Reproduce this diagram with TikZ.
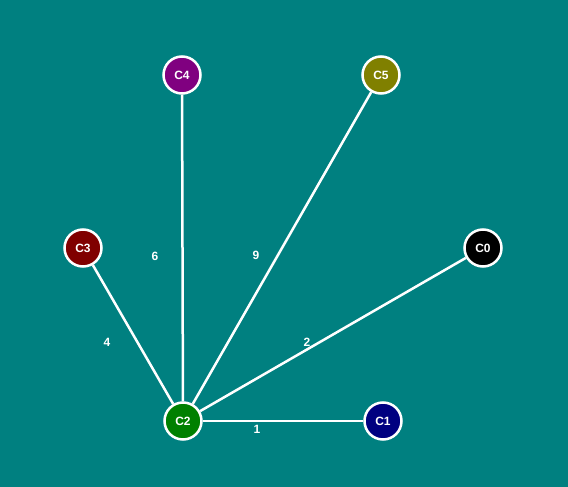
\documentclass[tikz,border=0pt]{standalone}
\usepackage{fontspec}
\setmainfont{Liberation Sans}
\begin{document}
\begin{tikzpicture}[x=1pt,y=-1pt,
  vtx/.style={circle,draw=white,line width=2.5pt,minimum size=37pt,inner sep=0pt,text=white,font=\fontsize{12}{14}\selectfont\bfseries},
  edge/.style={draw=white,line width=2.5pt},
  wt/.style={text=white,font=\fontsize{12}{14}\selectfont\bfseries,inner sep=0pt}]
\fill[fill={rgb,255:red,0;green,128;blue,128}] (0,0) rectangle (568,487);
\useasboundingbox (0,0) rectangle (568,487);
\node[vtx,fill={rgb,255:red,128;green,0;blue,128}] (c4) at (182,75) {C4};
\node[vtx,fill={rgb,255:red,128;green,128;blue,0}] (c5) at (381,75) {C5};
\node[vtx,fill={rgb,255:red,128;green,0;blue,0}] (c3) at (83,248) {C3};
\node[vtx,fill=black] (c0) at (483,248) {C0};
\node[vtx,fill={rgb,255:red,0;green,128;blue,0}] (c2) at (183,421) {C2};
\node[vtx,fill={rgb,255:red,0;green,0;blue,128}] (c1) at (383,421) {C1};
\draw[edge] (c2) -- (c4);
\draw[edge] (c2) -- (c5);
\draw[edge] (c2) -- (c3);
\draw[edge] (c2) -- (c0);
\draw[edge] (c2) -- (c1);
\node[wt] (w6) at (155,256) {6};
\node[wt] (w9) at (256,255) {9};
\node[wt] (w4) at (107,342) {4};
\node[wt] (w2) at (307,342) {2};
\node[wt] (w1) at (257,429) {1};
\end{tikzpicture}
\end{document}
